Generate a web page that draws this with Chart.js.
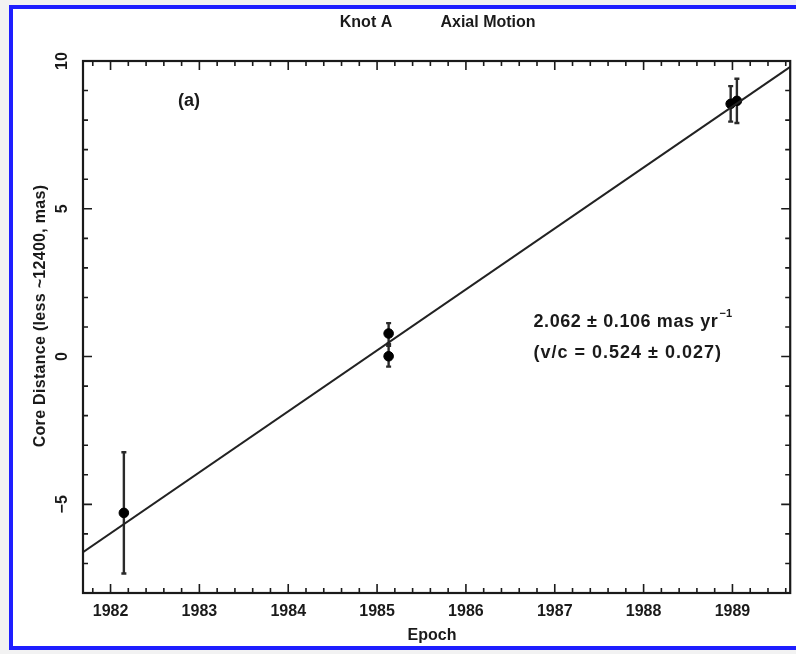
<!DOCTYPE html>
<html><head><meta charset="utf-8">
<script src="https://cdn.jsdelivr.net/npm/chart.js@4/dist/chart.umd.min.js"></script>
<style>
html,body{margin:0;padding:0;background:#f2f2f2;width:796px;height:654px;overflow:hidden}
#frame{position:absolute;left:9px;top:5px;width:810px;height:645px;border:4px solid #1e1eff;background:#fff;box-sizing:border-box}
#c{position:absolute;left:0;top:0}
</style></head><body>
<div id="frame"></div>
<canvas id="c" width="796" height="654"></canvas>
<script>
// ---- data ----
const epochs = [1982.15, 1985.13, 1985.13, 1988.98, 1989.05];
const distances = [-5.29, 0.78, 0.01, 8.55, 8.65];
const errors = [2.05, 0.35, 0.35, 0.6, 0.75];
const fitEpochs = [1981.69, 1989.65];
const fitDistances = [-6.62, 9.80];
const xTickValues = [1982, 1983, 1984, 1985, 1986, 1987, 1988, 1989];
const yTickValues = [-5, 0, 5, 10];
const yTickLabels = ['\u22125', '0', '5', '10'];
const xRange = [1981.69, 1989.65];
const yRange = [-8, 10];
const titleLeft = 'Knot A';
const titleRight = 'Axial Motion';
const xTitle = 'Epoch';
const yTitle = 'Core Distance (less ~12400, mas)';
const rateText = '2.062 \u00b1 0.106 mas yr';
const rateSup = '\u22121';
const vcText = '(v/c = 0.524 \u00b1 0.027)';
const panelLabel = '(a)';

const FONT = 'Liberation Sans, Arial, sans-serif';
const INK = '#1a1a1a';

const decor = {
  id: 'decor',
  beforeDatasetsDraw(chart) {
    const ctx = chart.ctx, xs = chart.scales.x, ys = chart.scales.y;
    ctx.save();
    ctx.strokeStyle = '#2a2a2a';
    ctx.lineWidth = 2.4;
    for (let i = 0; i < epochs.length; i++) {
      const x = xs.getPixelForValue(epochs[i]);
      const y1 = ys.getPixelForValue(distances[i] + errors[i]);
      const y2 = ys.getPixelForValue(distances[i] - errors[i]);
      ctx.beginPath();
      ctx.moveTo(x, y1); ctx.lineTo(x, y2);
      ctx.moveTo(x - 2.5, y1); ctx.lineTo(x + 2.5, y1);
      ctx.moveTo(x - 2.5, y2); ctx.lineTo(x + 2.5, y2);
      ctx.stroke();
    }
    ctx.restore();
  },
  afterDraw(chart) {
    const ctx = chart.ctx, a = chart.chartArea, xs = chart.scales.x, ys = chart.scales.y;
    ctx.save();
    // frame
    ctx.strokeStyle = INK;
    ctx.lineWidth = 2.2;
    ctx.strokeRect(a.left, a.top, a.right - a.left, a.bottom - a.top);
    // inward ticks
    ctx.lineWidth = 1.6;
    ctx.beginPath();
    for (let k = Math.ceil(xRange[0] * 5); k <= Math.floor(xRange[1] * 5); k++) {
      const x = xs.getPixelForValue(k / 5);
      const len = (k % 5 === 0) ? 9 : 5;
      ctx.moveTo(x, a.bottom); ctx.lineTo(x, a.bottom - len);
      ctx.moveTo(x, a.top); ctx.lineTo(x, a.top + len);
    }
    for (let v = Math.ceil(yRange[0]); v <= Math.floor(yRange[1]); v++) {
      const y = ys.getPixelForValue(v);
      const len = (v % 5 === 0) ? 9 : 5;
      ctx.moveTo(a.left, y); ctx.lineTo(a.left + len, y);
      ctx.moveTo(a.right, y); ctx.lineTo(a.right - len, y);
    }
    ctx.stroke();
    // y tick labels (rotated)
    ctx.fillStyle = INK;
    ctx.font = 'bold 16px ' + FONT;
    ctx.textAlign = 'center';
    ctx.textBaseline = 'middle';
    yTickValues.forEach((v, i) => {
      const y = ys.getPixelForValue(v);
      ctx.save();
      ctx.translate(63, y);
      ctx.rotate(-Math.PI / 2);
      ctx.fillText(yTickLabels[i], 0, 0);
      ctx.restore();
    });
    // y title
    ctx.save();
    ctx.translate(41, 316);
    ctx.rotate(-Math.PI / 2);
    ctx.font = 'bold 16px ' + FONT;
    ctx.letterSpacing = '0.3px';
    ctx.fillText(yTitle, 0, 0);
    ctx.restore();
    // x title
    ctx.font = 'bold 16px ' + FONT;
    ctx.fillText(xTitle, 432, 636);
    // top title
    ctx.fillText(titleLeft, 366, 23);
    ctx.fillText(titleRight, 488, 23);
    // panel label
    ctx.font = 'bold 18px ' + FONT;
    ctx.textAlign = 'left';
    ctx.fillText(panelLabel, xs.getPixelForValue(1982.76), ys.getPixelForValue(8.64));
    // rate annotation
    const rx = xs.getPixelForValue(1986.76);
    const ry = ys.getPixelForValue(1.16);
    ctx.font = 'bold 18px ' + FONT;
    ctx.letterSpacing = '0.6px';
    ctx.fillText(rateText, rx, ry);
    const w = ctx.measureText(rateText).width;
    ctx.font = 'bold 11px ' + FONT;
    ctx.letterSpacing = '0px';
    ctx.fillText(rateSup, rx + w + 1, ry - 8);
    ctx.font = 'bold 18px ' + FONT;
    ctx.letterSpacing = '1px';
    ctx.fillText(vcText, rx, ys.getPixelForValue(0.11));
    ctx.restore();
  }
};

new Chart(document.getElementById('c'), {
  type: 'scatter',
  data: {
    datasets: [
      {
        type: 'line',
        data: fitEpochs.map((x, i) => ({ x, y: fitDistances[i] })),
        borderColor: '#222',
        borderWidth: 2,
        pointRadius: 0,
        fill: false
      },
      {
        data: epochs.map((x, i) => ({ x, y: distances[i] })),
        backgroundColor: '#000',
        borderColor: '#000',
        pointRadius: 4.8,
        pointHoverRadius: 4.8
      }
    ]
  },
  plugins: [decor],
  options: {
    responsive: false,
    animation: false,
    devicePixelRatio: 1,
    layout: { padding: { top: 61, right: 3, left: 0, bottom: 0 } },
    plugins: { legend: { display: false }, tooltip: { enabled: false }, title: { display: false } },
    scales: {
      x: {
        type: 'linear',
        min: xRange[0], max: xRange[1],
        grid: { display: false, drawTicks: false },
        border: { display: false },
        afterBuildTicks: s => { s.ticks = xTickValues.map(v => ({ value: v })); },
        afterFit: s => { s.height = 61; },
        ticks: {
          padding: 9,
          color: INK,
          font: { family: FONT, size: 16, weight: 'bold' },
          callback: v => String(v),
          maxRotation: 0, minRotation: 0, autoSkip: false
        }
      },
      y: {
        type: 'linear',
        min: yRange[0], max: yRange[1],
        grid: { display: false, drawTicks: false },
        border: { display: false },
        afterBuildTicks: s => { s.ticks = yTickValues.map(v => ({ value: v })); },
        afterFit: s => { s.width = 83; },
        ticks: { display: false }
      }
    }
  }
});
</script>
</body></html>
